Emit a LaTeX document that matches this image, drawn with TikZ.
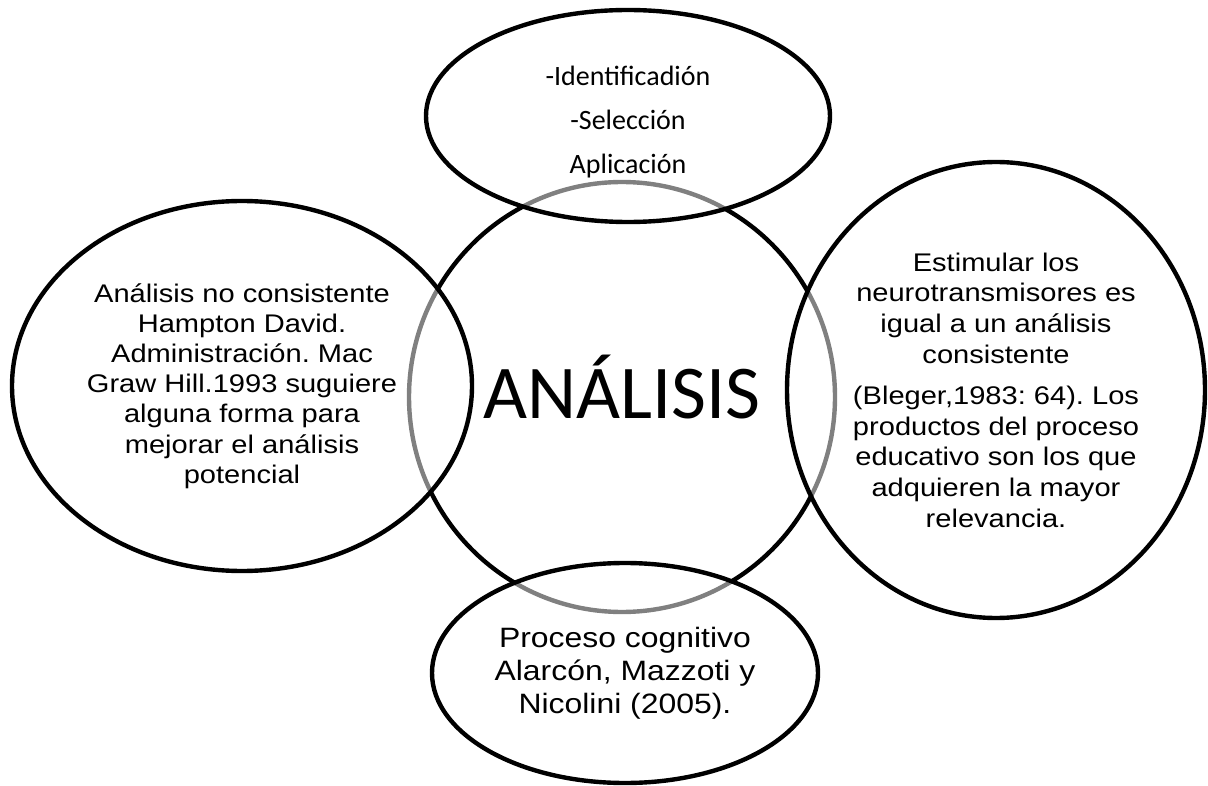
\documentclass[tikz,border=0pt]{standalone}
\usepackage{fontspec}
\usepackage{tikz}
\usetikzlibrary{shapes.geometric,positioning}
\newfontfamily\calibfont{Carlito}
\newfontfamily\arialwide[FakeStretch=1.14]{Liberation Sans}
\frenchspacing

\begin{document}
\begin{tikzpicture}[x=1pt, y=-1pt]
    \tikzstyle{core} = [draw=black, line width=4.4pt, ellipse, inner sep=0pt, align=center]
    \tikzstyle{bubble} = [draw=black, line width=4.4pt, ellipse, inner sep=0pt, fill=white, fill opacity=0.5, text opacity=1, align=center]

    \useasboundingbox (0,0) rectangle (1208,786);

    \node[core, minimum width=426pt, minimum height=430pt, text height=48pt, text depth=6pt, font=\calibfont\fontsize{76}{80}\selectfont] (core) at (622, 397) {ANÁLISIS};

    % outer bubbles
    \node[bubble, minimum width=404pt, minimum height=212pt, font=\calibfont\fontsize{28}{44}\selectfont] (tools) at (628, 116) {\rule{0pt}{31pt}-Identificadión\\-Selección\\Aplicación};
    \node[bubble, minimum width=460pt, minimum height=370pt, font=\arialwide\fontsize{25.5}{30.2}\selectfont] (hampton) at (242, 386) {Análisis no consistente\\Hampton David.\\Administración. Mac\\Graw Hill.1993 suguiere\\alguna forma para\\mejorar el análisis\\potencial};
    \node[bubble, minimum width=418pt, minimum height=456pt, font=\arialwide\fontsize{25.5}{30.6}\selectfont] (bleger) at (996, 390) {Estimular los\\neurotransmisores es\\igual a un análisis\\consistente\\[11pt](Bleger,1983: 64). Los\\productos del proceso\\educativo son los que\\adquieren la mayor\\relevancia.};
    \node[bubble, minimum width=386pt, minimum height=220pt, font=\arialwide\fontsize{28}{33}\selectfont] (cognitivo) at (625, 673) {Proceso cognitivo\\Alarcón, Mazzoti y\\Nicolini (2005).};
\end{tikzpicture}
\end{document}
